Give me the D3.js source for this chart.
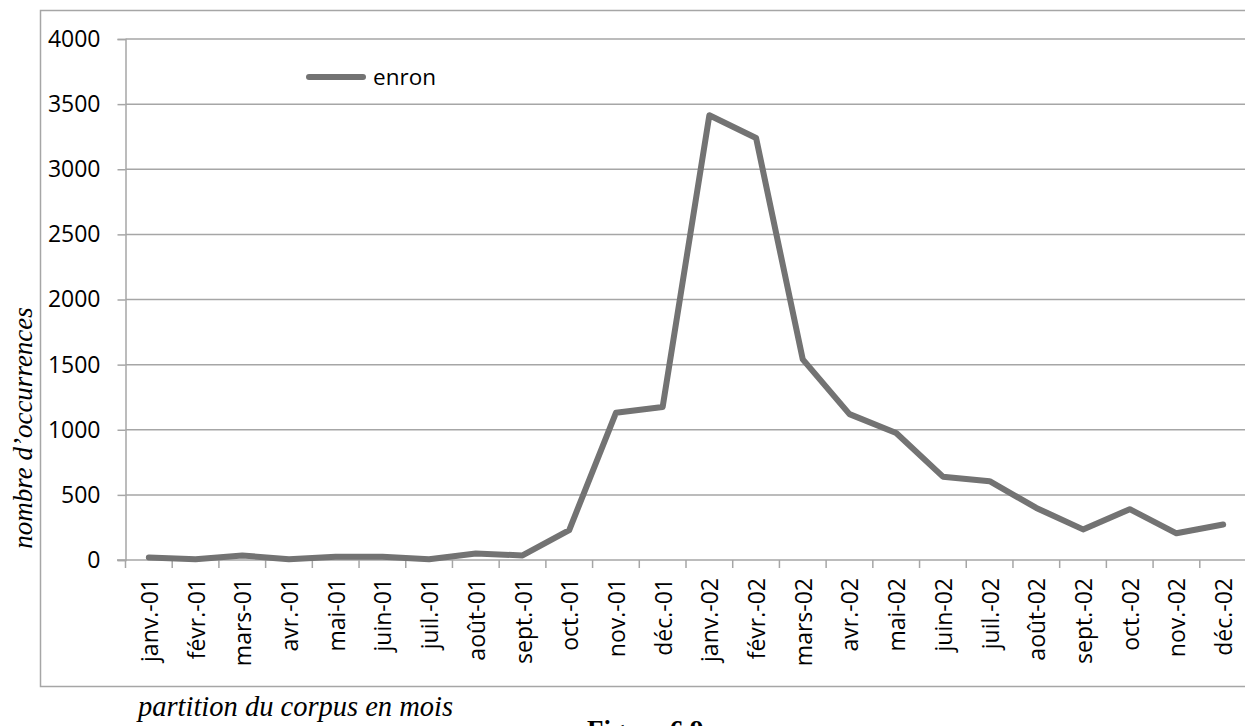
<!DOCTYPE html>
<html>
<head>
<meta charset="utf-8">
<script src="https://cdn.jsdelivr.net/npm/d3@7"></script>
<style>
html,body{margin:0;padding:0;background:#fff;}
svg{display:block;}
</style>
</head>
<body>
<svg id="chart" width="1245" height="726"></svg>
<script>
const months = ["janv.-01","févr.-01","mars-01","avr.-01","mai-01","juin-01","juil.-01","août-01","sept.-01","oct.-01","nov.-01","déc.-01",
                "janv.-02","févr.-02","mars-02","avr.-02","mai-02","juin-02","juil.-02","août-02","sept.-02","oct.-02","nov.-02","déc.-02"];
const enron = [20,5,35,5,25,25,5,50,35,230,1130,1175,3415,3240,1540,1120,975,640,605,400,235,390,205,272];
const yTicks = [0,500,1000,1500,2000,2500,3000,3500,4000];
const seriesName = "enron";
const yTitle = "nombre d’occurrences";
const xTitle = "partition du corpus en mois";
const caption = "Figure 6.9";

const svg = d3.select("#chart");
const gridCol = "#a6a6a6";
const lineCol = "#737373";
const tickFont = "'Open Sans', sans-serif";
const serif = "'Liberation Serif', 'Times New Roman', serif";

// outer frame
svg.append("rect").attr("x",40.5).attr("y",10.5).attr("width",1240).attr("height",676)
  .attr("fill","none").attr("stroke",gridCol).attr("stroke-width",1.5);

const x = d3.scaleBand().domain(months).range([125.5,1246.5]);
const y = d3.scaleLinear().domain([0,4000]).range([560,39]);

// gridlines
svg.append("g").selectAll("line").data(yTicks.filter(d=>d>0)).join("line")
  .attr("x1",125.5).attr("x2",1246).attr("y1",d=>y(d)).attr("y2",d=>y(d))
  .attr("stroke",gridCol).attr("stroke-width",1.5);

// y axis
const yAxis = svg.append("g").attr("transform","translate(125.5,0)")
  .call(d3.axisLeft(y).tickValues(yTicks).tickSize(8).tickPadding(17).tickFormat(d3.format("d")));
yAxis.select(".domain").attr("stroke",gridCol).attr("stroke-width",1.5);
yAxis.selectAll(".tick line").attr("stroke",gridCol).attr("stroke-width",1.5);
yAxis.selectAll("text").attr("font-family",tickFont).attr("font-size",23).attr("fill","#000");

// x axis line
svg.append("line").attr("x1",117).attr("x2",1246).attr("y1",y(0)).attr("y2",y(0))
  .attr("stroke",gridCol).attr("stroke-width",1.5);
// x ticks at category boundaries
const bounds = months.map(m=>x(m));
svg.append("g").selectAll("line").data(bounds).join("line")
  .attr("x1",d=>d).attr("x2",d=>d).attr("y1",y(0)).attr("y2",y(0)+8)
  .attr("stroke",gridCol).attr("stroke-width",1.5);
// x labels
svg.append("g").selectAll("text").data(months).join("text")
  .attr("transform",d=>`translate(${x(d)+x.bandwidth()/2},578) rotate(-90)`)
  .attr("text-anchor","end").attr("dominant-baseline","central")
  .attr("font-family",tickFont).attr("font-size",23).attr("fill","#000")
  .text(d=>d);

// line
const line = d3.line().x((d,i)=>x(months[i])+x.bandwidth()/2).y(d=>y(d));
svg.append("path").datum(enron).attr("d",line).attr("fill","none")
  .attr("stroke",lineCol).attr("stroke-width",6).attr("stroke-linejoin","round").attr("stroke-linecap","round");

// legend
svg.append("line").attr("x1",309).attr("x2",363).attr("y1",77).attr("y2",77)
  .attr("stroke",lineCol).attr("stroke-width",6).attr("stroke-linecap","round");
svg.append("text").attr("x",373).attr("y",85).attr("font-family",tickFont).attr("font-size",22.5).text(seriesName);

// titles
svg.append("text").attr("transform","translate(32,428) rotate(-90)").attr("text-anchor","middle")
  .attr("font-family",serif).attr("font-style","italic").attr("font-size",27).text(yTitle);
svg.append("text").attr("x",138).attr("y",716)
  .attr("font-family",serif).attr("font-style","italic").attr("font-size",28.5).text(xTitle);
svg.append("text").attr("x",587).attr("y",739)
  .attr("font-family",serif).attr("font-weight","bold").attr("font-size",27).text(caption);
</script>
</body>
</html>
